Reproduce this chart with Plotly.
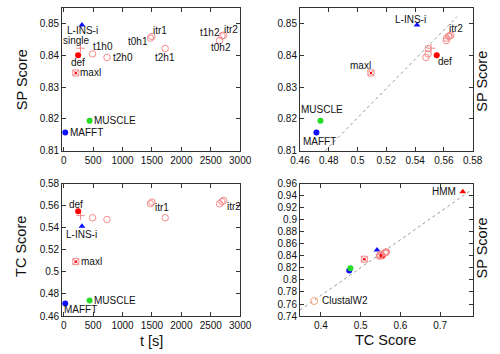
import plotly.graph_objects as go

# ---------------- data ----------------
methods = ["MAFFT", "MUSCLE", "L-INS-i", "single", "def", "maxl",
           "t1h0", "t2h0", "t0h1", "itr1", "t2h1", "t0h2", "t1h2", "itr2"]
time_s = [25, 440, 310, 285, 245, 205,
          490, 735, 1475, 1500, 1725, 2650, 2690, 2720]
sp_score = [0.8157, 0.8194, 0.8496, 0.8423, 0.8401, 0.8345,
            0.8405, 0.8394, 0.8455, 0.8460, 0.8422, 0.8447, 0.8462, 0.8464]
tc_score = [0.4714, 0.4742, 0.5413, 0.5510, 0.5550, 0.5093,
            0.5490, 0.5475, 0.5618, 0.5633, 0.5491, 0.5617, 0.5637, 0.5648]

extra_methods = ["ClustalW2", "HMM"]
extra_tc = [0.383, 0.757]
extra_sp = [0.765, 0.9465]

fit_tc_top = [0.4775, 0.569]
fit_sp_top = [0.8100, 0.8522]
fit_tc_bottom = [0.3475, 0.776]
fit_sp_bottom = [0.7498, 0.9482]

# ---------------- styles ----------------
BLUE = "#1010ff"
GREEN = "#22dd22"
RED = "#ff0000"
PINK = "#f58a8a"
ORANGE = "#f2a070"

style = {
    "MAFFT": dict(symbol="circle", color=BLUE, size=6),
    "MUSCLE": dict(symbol="circle", color=GREEN, size=6),
    "L-INS-i": dict(symbol="triangle-up", color=BLUE, size=6),
    "single": dict(symbol="cross-thin-open", color=PINK, size=6, line=dict(color=PINK, width=1)),
    "def": dict(symbol="circle", color=RED, size=6),
    "maxl": dict(symbol="square-x-open", color=PINK, size=6, line=dict(color=PINK, width=1)),
    "ClustalW2": dict(symbol="circle-open", color=ORANGE, size=7, line=dict(color=ORANGE, width=1)),
    "HMM": dict(symbol="triangle-up", color=RED, size=6),
}
open_style = dict(symbol="circle-open", color=PINK, size=6.5, line=dict(color=PINK, width=1))

FONT = "Liberation Sans, Arial, sans-serif"
fig = go.Figure()

panels = [
    ("x", "y", time_s, sp_score),
    ("x2", "y2", tc_score, sp_score),
    ("x3", "y3", time_s, tc_score),
    ("x4", "y4", tc_score, sp_score),
]

# fit lines
fig.add_trace(go.Scatter(x=fit_tc_top, y=fit_sp_top, xaxis="x2", yaxis="y2", mode="lines",
                         line=dict(color="#999999", width=1, dash="dot"), showlegend=False,
                         hoverinfo="skip"))
fig.add_trace(go.Scatter(x=fit_tc_bottom, y=fit_sp_bottom, xaxis="x4", yaxis="y4", mode="lines",
                         line=dict(color="#999999", width=1, dash="dot"), showlegend=False,
                         hoverinfo="skip"))

for xa, ya, xs, ys in panels:
    for i, m in enumerate(methods):
        st = style.get(m, open_style)
        fig.add_trace(go.Scatter(x=[xs[i]], y=[ys[i]], xaxis=xa, yaxis=ya, mode="markers",
                                 marker=st, showlegend=False, name=m))
        if m == "maxl":
            fig.add_trace(go.Scatter(x=[xs[i]], y=[ys[i]], xaxis=xa, yaxis=ya, mode="markers",
                                     marker=dict(symbol="circle", color=RED, size=2.5),
                                     showlegend=False, name=m))

for j, m in enumerate(extra_methods):
    fig.add_trace(go.Scatter(x=[extra_tc[j]], y=[extra_sp[j]], xaxis="x4", yaxis="y4",
                             mode="markers", marker=style[m], showlegend=False, name=m))

# ---------------- labels ----------------
idx = {m: i for i, m in enumerate(methods)}
# (panel, method, xanchor, xshift, yshift)
labels = [
    (0, "L-INS-i", "center", 1, -5),
    (0, "single", "center", -4, 8),
    (0, "def", "center", 0, -7),
    (0, "maxl", "left", 3, 0),
    (0, "t1h0", "center", 10, 7),
    (0, "t2h0", "left", 5, 0),
    (0, "t0h1", "right", -1, -3),
    (0, "itr1", "center", 8, 6),
    (0, "t2h1", "center", 0, -9),
    (0, "t1h2", "right", -1, 3),
    (0, "itr2", "center", 7, 6),
    (0, "t0h2", "center", 1, -7),
    (0, "MUSCLE", "left", 3, 0),
    (0, "MAFFT", "left", 4, 0),
    (1, "L-INS-i", "center", -7, 6),
    (1, "itr2", "center", 5, 7),
    (1, "def", "center", 8, -6),
    (1, "maxl", "center", -10, 7),
    (1, "MUSCLE", "center", 2, 11),
    (1, "MAFFT", "center", 3, -9),
    (2, "def", "center", -2, 7),
    (2, "L-INS-i", "center", 0, -8),
    (2, "itr1", "left", 2, -5),
    (2, "itr2", "left", 2, -6),
    (2, "maxl", "left", 4, 0),
    (2, "MUSCLE", "left", 3, 0),
    (2, "MAFFT", "left", -2, -6),
]
LBL = dict(family=FONT, size=10, color="#111")
annotations = []
for p, m, xan, xs_, ys_ in labels:
    xa, ya, xs, ys = panels[p]
    i = idx[m]
    annotations.append(dict(x=xs[i], y=ys[i], xref=xa, yref=ya, text=m, showarrow=False,
                            xanchor=xan, yanchor="middle", xshift=xs_, yshift=ys_,
                            borderpad=0, font=LBL))
annotations.append(dict(x=extra_tc[1], y=extra_sp[1], xref="x4", yref="y4", text="HMM",
                        showarrow=False, xanchor="right", xshift=-5, yshift=0, font=LBL))
annotations.append(dict(x=extra_tc[0], y=extra_sp[0], xref="x4", yref="y4", text="ClustalW2",
                        showarrow=False, xanchor="left", xshift=6, yshift=1, font=LBL))

title_font = dict(family=FONT, size=14.5, color="#111")
for txt, x, y, ang in [("SP Score", 0.024, 0.785, -90), ("TC Score", 0.024, 0.299, -90),
                       ("t [s]", 0.296, 0.024, 0), ("TC Score", 0.786, 0.025, 0),
                       ("SP Score", 0.988, 0.78, -90), ("SP Score", 0.988, 0.294, -90)]:
    annotations.append(dict(x=x, y=y, xref="paper", yref="paper", text=txt, showarrow=False,
                            xanchor="center", yanchor="middle", textangle=ang, font=title_font))

# ---------------- axes ----------------
def ax(domain, rng, dtick, anchor, tick0=None):
    d = dict(domain=domain, range=rng, dtick=dtick, anchor=anchor, showgrid=False,
             zeroline=False, showline=True, linecolor="#333", linewidth=1, mirror="ticks",
             ticks="inside", ticklen=4, tickcolor="#333",
             tickfont=dict(family=FONT, size=10, color="#111"))
    if tick0 is not None:
        d["tick0"] = tick0
    return d

LX = [0.109, 0.4815]
RX = [0.6067, 0.968]
TY = [0.5782, 0.9944]
BY = [0.096, 0.4822]

fig.update_layout(
    width=500, height=354,
    margin=dict(l=0, r=0, t=0, b=0),
    paper_bgcolor="white", plot_bgcolor="white",
    showlegend=False,
    xaxis=ax(LX, [-28, 3000], 500, "y", 0),
    yaxis=ax(TY, [0.81, 0.855], 0.01, "x", 0.81),
    xaxis2=ax(RX, [0.46, 0.58], 0.02, "y2", 0.46),
    yaxis2=ax(TY, [0.81, 0.855], 0.01, "x2", 0.81),
    xaxis3=ax(LX, [-28, 3000], 500, "y3", 0),
    yaxis3=ax(BY, [0.46, 0.58], 0.02, "x3", 0.46),
    xaxis4=ax(RX, [0.3475, 0.782], 0.1, "y4", 0.4),
    yaxis4=ax(BY, [0.74, 0.96], 0.02, "x4", 0.74),
    annotations=annotations,
)

fig.write_html("out.html")
